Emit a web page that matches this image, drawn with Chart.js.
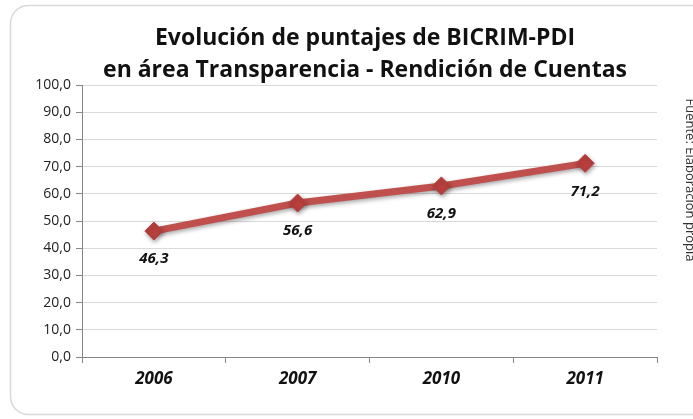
<!DOCTYPE html>
<html>
<head>
<meta charset="utf-8">
<script src="https://cdn.jsdelivr.net/npm/chart.js@4"></script>
<style>
  html, body { margin: 0; padding: 0; background: #ffffff; }
  #wrap { width: 693px; height: 419px; position: relative; }
</style>
</head>
<body>
<div id="wrap"><canvas id="chart"></canvas></div>
<script>
const years = ["2006", "2007", "2010", "2011"];
const scores = [46.3, 56.6, 62.9, 71.2];
const titleLines = ["Evolución de puntajes de BICRIM-PDI", "en área Transparencia - Rendición de Cuentas"];
const sourceNote = "Fuente: Elaboración propia";

const lineRed = "#c0504d";
const fmt = v => v.toFixed(1).replace(".", ",");

// frame, title and side note drawn around the plot
const decorations = {
  id: "decorations",
  beforeDraw(chart) {
    const ctx = chart.ctx;
    ctx.save();
    ctx.fillStyle = "#ffffff";
    ctx.fillRect(0, 0, chart.width, chart.height);
    ctx.strokeStyle = "#d9d9d9";
    ctx.lineWidth = 1.5;
    ctx.beginPath();
    ctx.roundRect(10.5, 5.5, 720, 409, 18);
    ctx.stroke();

    ctx.fillStyle = "#111111";
    ctx.font = "bold 23px 'Open Sans'";
    ctx.textAlign = "center";
    ctx.textBaseline = "middle";
    ctx.fillText(titleLines[0], 365, 38);
    ctx.fillText(titleLines[1], 365, 70);

    ctx.translate(690, 180);
    ctx.rotate(Math.PI / 2);
    ctx.font = "13px 'Open Sans'";
    ctx.fillStyle = "#333333";
    ctx.fillText(sourceNote, 0, 0);
    ctx.restore();
  },
  afterDatasetsDraw(chart) {
    const ctx = chart.ctx;
    const meta = chart.getDatasetMeta(0);
    ctx.save();
    ctx.fillStyle = "#111111";
    ctx.font = "italic bold 15px 'Open Sans'";
    ctx.textAlign = "center";
    ctx.textBaseline = "middle";
    meta.data.forEach((pt, i) => {
      ctx.fillText(fmt(scores[i]), pt.x, pt.y + 28);
    });
    ctx.restore();
  }
};

const shadow = {
  id: "shadow",
  beforeDatasetDraw(chart) {
    const ctx = chart.ctx;
    ctx.save();
    ctx.shadowColor = "rgba(0,0,0,0.35)";
    ctx.shadowBlur = 4;
    ctx.shadowOffsetX = 1;
    ctx.shadowOffsetY = 2;
  },
  afterDatasetDraw(chart) {
    chart.ctx.restore();
  }
};

new Chart(document.getElementById("chart"), {
  type: "line",
  data: {
    labels: years,
    datasets: [{
      data: scores,
      borderColor: lineRed,
      borderWidth: 7,
      tension: 0,
      pointStyle: "rectRot",
      pointRadius: 9,
      pointBackgroundColor: "#b8403d",
      pointBorderColor: "#b8403d",
      pointBorderWidth: 1
    }]
  },
  options: {
    responsive: true,
    maintainAspectRatio: false,
    animation: false,
    layout: { padding: { left: 10, right: 36, top: 85, bottom: 12 } },
    plugins: {
      legend: { display: false },
      tooltip: { enabled: false }
    },
    scales: {
      x: {
        offset: true,
        grid: {
          offset: true,
          drawOnChartArea: false,
          tickLength: 6,
          color: "#868686"
        },
        border: { color: "#868686", width: 1 },
        ticks: {
          color: "#111111",
          font: { family: "'Open Sans'", size: 17, style: "italic", weight: "bold" },
          padding: 6
        },
        afterFit: scale => { scale.height = 50; }
      },
      y: {
        min: 0,
        max: 100,
        ticks: {
          stepSize: 10,
          color: "#222222",
          font: { family: "'Open Sans'", size: 14 },
          padding: 5,
          callback: v => fmt(v)
        },
        grid: {
          color: "#d9d9d9",
          tickLength: 6,
          tickColor: "#868686"
        },
        border: { color: "#868686", width: 1 },
        afterFit: scale => { scale.width = 72; }
      }
    }
  },
  plugins: [decorations, shadow]
});
</script>
</body>
</html>
